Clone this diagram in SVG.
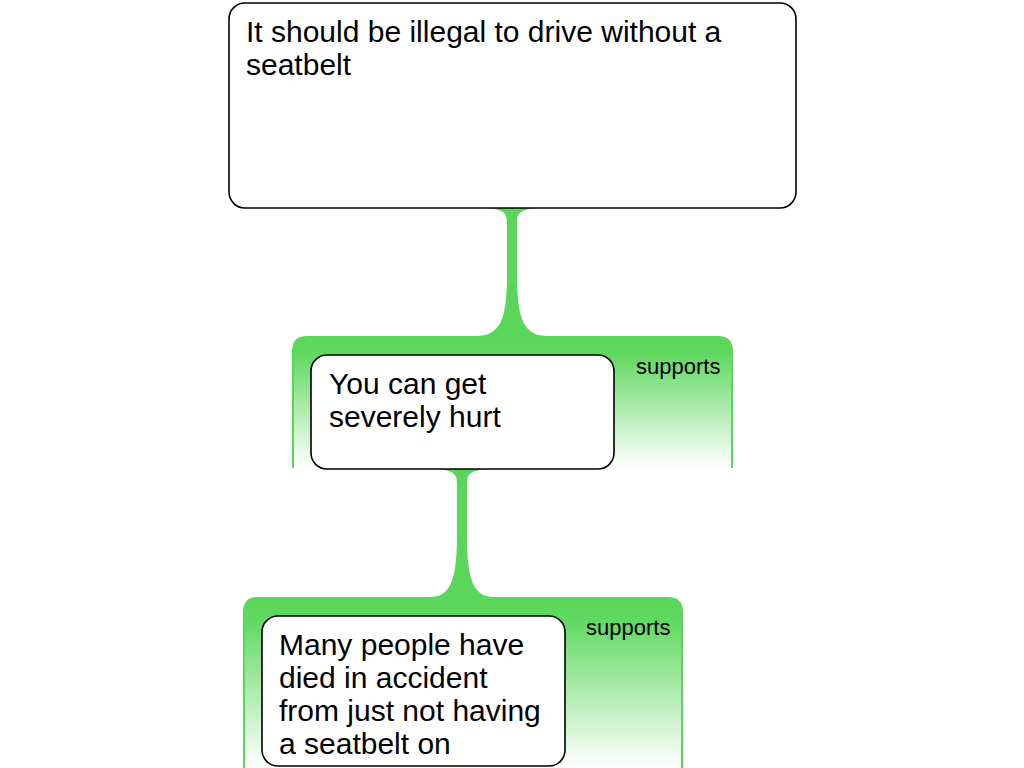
<svg xmlns="http://www.w3.org/2000/svg" width="1024" height="768" viewBox="0 0 1024 768">
<style>
.box{fill:#ffffff;stroke:#000000;stroke-width:1.6}
.txt{font-family:"Liberation Sans",Arial,sans-serif;font-size:30px;fill:#000000}
.lbl{font-family:"Liberation Sans",Arial,sans-serif;font-size:22px;fill:#000000}
.edge{stroke:#5ad65a;stroke-width:2;fill:none}
.link{fill:#5ad65a;stroke:none}
</style>
<defs>
<linearGradient id="fade" x1="0" y1="0" x2="0" y2="1">
<stop offset="0" stop-color="#5ad65a"/>
<stop offset="0.12" stop-color="#5ed85e"/>
<stop offset="1" stop-color="#ffffff"/>
</linearGradient>
</defs>
<rect width="1024" height="768" fill="#ffffff"/>
<g id="panel2">
<path d="M292 468 L292 351 Q292 336 307 336 L718 336 Q733 336 733 351 L733 468 Z" fill="url(#fade)"/>
<line class="edge" x1="293" y1="350" x2="293" y2="468"/>
<line class="edge" x1="732" y1="350" x2="732" y2="468"/>
<text class="lbl" x="636" y="374">supports</text>
</g>
<g id="panel3">
<path d="M243 768 L243 612 Q243 597 258 597 L668 597 Q683 597 683 612 L683 768 Z" fill="url(#fade)"/>
<line class="edge" x1="244" y1="611" x2="244" y2="768"/>
<line class="edge" x1="682" y1="611" x2="682" y2="768"/>
<text class="lbl" x="586" y="635">supports</text>
</g>
<g id="connectors">
<path class="link" d="M485 208 L539 208 C522 209 517 212 517 222 L517 275 C517 322 525 336 548 336 L476 336 C499 336 507 322 507 275 L507 222 C507 212 502 209 485 208 Z"/>
<path class="link" d="M435 469 L489 469 C472 470 467 473 467 483 L467 536 C467 583 475 597 494 597 L430 597 C449 597 457 583 457 536 L457 483 C457 473 452 470 435 469 Z"/>
</g>
<g id="node1">
<rect class="box" x="229" y="3" width="567" height="205" rx="16"/>
<text class="txt" x="246" y="42">It should be illegal to drive without a</text>
<text class="txt" x="246" y="75">seatbelt</text>
</g>
<g id="node2">
<rect class="box" x="311" y="355" width="303" height="114" rx="16"/>
<text class="txt" x="329" y="394">You can get</text>
<text class="txt" x="329" y="427">severely hurt</text>
</g>
<g id="node3">
<rect class="box" x="262" y="616" width="303" height="150" rx="16"/>
<text class="txt" x="279" y="655">Many people have</text>
<text class="txt" x="279" y="688">died in accident</text>
<text class="txt" x="279" y="721">from just not having</text>
<text class="txt" x="279" y="754">a seatbelt on</text>
</g>
</svg>
